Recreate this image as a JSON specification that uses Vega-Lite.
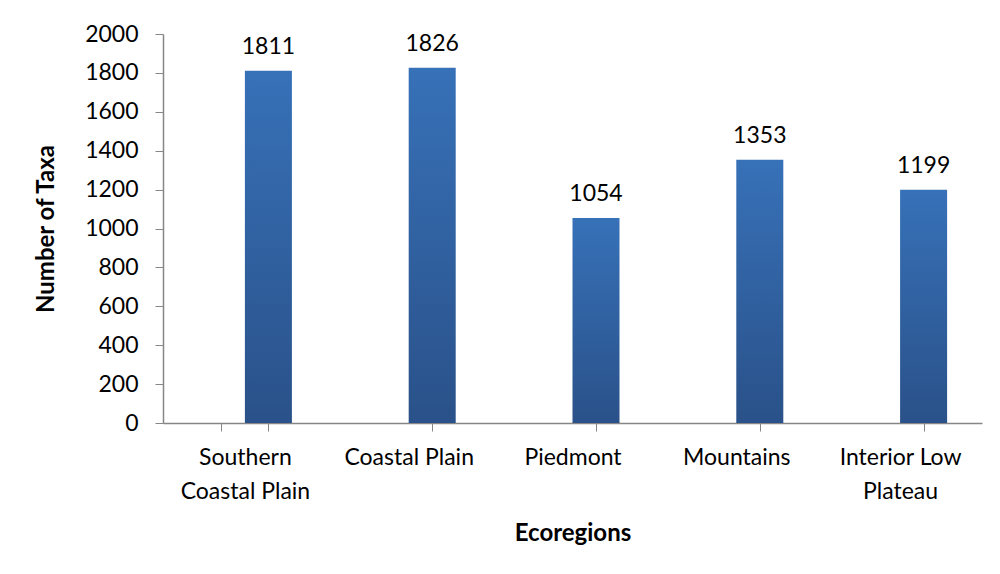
{
  "$schema": "https://vega.github.io/schema/vega-lite/v6.json",
  "width": 819,
  "height": 389,
  "autosize": {"type": "none"},
  "padding": {"left": 163, "top": 34, "right": 18, "bottom": 151},
  "background": "white",
  "config": {
    "view": {"stroke": null},
    "font": "Lato",
    "axis": {"labelFont": "Lato", "titleFont": "Lato", "labelColor": "#000000", "titleColor": "#000000", "domainColor": "#868686", "tickColor": "#868686", "grid": false}
  },
  "data": {
    "values": [
      {"region": "Southern Coastal Plain", "taxa": 1811},
      {"region": "Coastal Plain", "taxa": 1826},
      {"region": "Piedmont", "taxa": 1054},
      {"region": "Mountains", "taxa": 1353},
      {"region": "Interior Low Plateau", "taxa": 1199}
    ]
  },
  "encoding": {
    "x": {
      "field": "region",
      "type": "nominal",
      "sort": null,
      "scale": {"paddingInner": 0.713, "paddingOuter": 0.3565},
      "axis": {
        "title": "Ecoregions",
        "titleFontSize": 24,
        "titleFontWeight": "bold",
        "titlePadding": 18,
        "labelFontSize": 23,
        "labelAngle": 0,
        "labelPadding": 15,
        "labelLineHeight": 34,
        "tickBand": "extent",
        "tickSize": 8,
        "domainWidth": 1.5,
        "labelExpr": "datum.value == 'Southern Coastal Plain' ? ['Southern', 'Coastal Plain'] : datum.value == 'Interior Low Plateau' ? ['Interior Low', 'Plateau'] : datum.value"
      }
    },
    "y": {
      "field": "taxa",
      "type": "quantitative",
      "scale": {"domain": [0, 2000], "nice": false},
      "axis": {
        "title": "Number of Taxa",
        "titleFontSize": 24,
        "titleFontWeight": "bold",
        "titlePadding": 26,
        "labelFontSize": 23,
        "labelPadding": 17,
        "labelOverlap": false,
        "format": "d",
        "tickSize": 8,
        "values": [0, 200, 400, 600, 800, 1000, 1200, 1400, 1600, 1800, 2000],
        "domainWidth": 1.5
      }
    }
  },
  "layer": [
    {
      "mark": {
        "type": "bar",
        "xOffset": 23.5,
        "fill": {
          "gradient": "linear",
          "x1": 0, "y1": 0, "x2": 0, "y2": 1,
          "stops": [
            {"offset": 0, "color": "#3771b8"},
            {"offset": 1, "color": "#2a5189"}
          ]
        }
      }
    },
    {
      "mark": {"type": "text", "xOffset": 23.5, "baseline": "alphabetic", "dy": -17, "fontSize": 23, "font": "Lato", "color": "#000000"},
      "encoding": {"text": {"field": "taxa", "type": "quantitative"}}
    }
  ]
}
